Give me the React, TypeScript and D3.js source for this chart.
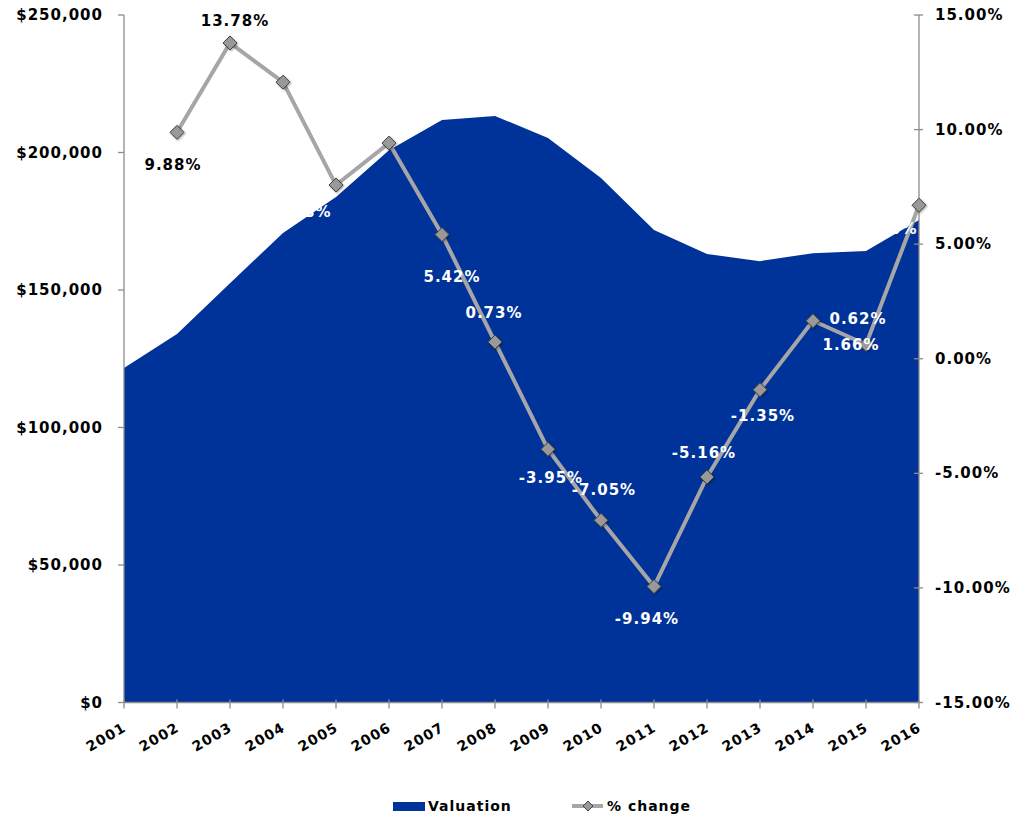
import React from "react";
import * as d3 from "d3";

const years = ["2001","2002","2003","2004","2005","2006","2007","2008","2009","2010","2011","2012","2013","2014","2015","2016"];
const valuation = [121600,134000,152500,170700,183800,200800,211800,213300,205300,190700,171800,163100,160500,163400,164200,175500];
const pctYears = ["2002","2003","2004","2005","2006","2007","2008","2009","2010","2011","2012","2013","2014","2015","2016"];
const pctChange = [9.88,13.78,12.07,7.58,9.41,5.42,0.73,-3.95,-7.05,-9.94,-5.16,-1.35,1.66,0.62,6.7];
// label text, label offset (dx, dy) relative to point, colour
const pctLabels = [
  { year: "2002", text: "9.88%", dx: -4, dy: 38, color: "#000" },
  { year: "2003", text: "13.78%", dx: 5, dy: -17, color: "#000" },
  { year: "2005", text: "7.58%", dx: -33, dy: 32, color: "#fff" },
  { year: "2007", text: "5.42%", dx: 10, dy: 47, color: "#fff" },
  { year: "2008", text: "0.73%", dx: -1, dy: -24, color: "#fff" },
  { year: "2009", text: "-3.95%", dx: 3, dy: 34, color: "#fff" },
  { year: "2010", text: "-7.05%", dx: 3, dy: -25, color: "#fff" },
  { year: "2011", text: "-9.94%", dx: -7, dy: 37, color: "#fff" },
  { year: "2012", text: "-5.16%", dx: -3, dy: -19, color: "#fff" },
  { year: "2013", text: "-1.35%", dx: 3, dy: 31, color: "#fff" },
  { year: "2014", text: "0.62%", dx: 45, dy: 3, color: "#fff" },
  { year: "2015", text: "1.66%", dx: -15, dy: 5, color: "#fff" },
  { year: "2016", text: "6.70%", dx: -30, dy: 29, color: "#fff" },
];
const leftTicks = [0, 50000, 100000, 150000, 200000, 250000];
const rightTicks = [-15, -10, -5, 0, 5, 10, 15];

const W = 1032, H = 817;
const X0 = 124, X1 = 919, Y0 = 702.5, Y1 = 15;
const FONT = "'DejaVu Sans', Verdana, sans-serif";
const AREA = "#003399";
const AXIS = "#8c8c8c";

export default function App() {
  const x = d3.scalePoint<string>().domain(years).range([X0, X1]);
  const yL = d3.scaleLinear().domain([0, 250000]).range([Y0, Y1]);
  const yR = d3.scaleLinear().domain([-15, 15]).range([Y0, Y1]);
  const area = d3.area<number>().x((_, i) => x(years[i])!).y0(Y0).y1((d) => yL(d));
  const line = d3.line<number>().x((_, i) => x(pctYears[i])!).y((d) => yR(d));
  const fmtL = (v: number) => "$" + d3.format(",")(v);
  const diamond = (cx: number, cy: number, r: number) =>
    `M${cx},${cy - r}L${cx + r},${cy}L${cx},${cy + r}L${cx - r},${cy}Z`;
  const txt = { fontFamily: FONT, fontWeight: 700, fontSize: 15, letterSpacing: 1 } as const;

  return (
    <svg width={W} height={H} style={{ position: "absolute", left: 0, top: 0, background: "#fff" }}>
      <defs>
        <filter id="sh" x="-50%" y="-50%" width="200%" height="200%">
          <feDropShadow dx="1" dy="1" stdDeviation="1" floodColor="#000" floodOpacity="0.35" />
        </filter>
      </defs>
      <path d={area(valuation)!} fill={AREA} />
      {/* left axis */}
      <line x1={X0} x2={X0} y1={Y1} y2={Y0} stroke={AXIS} strokeWidth={1.3} />
      {leftTicks.map((t) => (
        <g key={"l" + t}>
          <line x1={X0 - 6} x2={X0} y1={yL(t)} y2={yL(t)} stroke={AXIS} strokeWidth={1.3} />
          <text x={103} y={yL(t) + 5} textAnchor="end" {...txt}>{fmtL(t)}</text>
        </g>
      ))}
      {/* right axis */}
      <line x1={X1} x2={X1} y1={Y1} y2={Y0} stroke={AXIS} strokeWidth={1.3} />
      {rightTicks.map((t) => (
        <g key={"r" + t}>
          <line x1={X1 - 5} x2={X1 + 4} y1={yR(t)} y2={yR(t)} stroke={AXIS} strokeWidth={1.3} />
          <text x={935} y={yR(t) + 5} textAnchor="start" {...txt}>{t.toFixed(2) + "%"}</text>
        </g>
      ))}
      {/* bottom axis */}
      <line x1={X0} x2={X1} y1={Y0} y2={Y0} stroke={AXIS} strokeWidth={1.5} />
      {years.map((yr) => (
        <g key={"x" + yr}>
          <line x1={x(yr)!} x2={x(yr)!} y1={Y0 - 3} y2={Y0 + 6} stroke={AXIS} strokeWidth={1.3} />
          <text transform={`translate(${x(yr)! + 3},${Y0 + 28}) rotate(-30)`} textAnchor="end" {...txt} fontSize={14}>{yr}</text>
        </g>
      ))}
      {/* % change line */}
      <path d={line(pctChange)!} fill="none" stroke="#a6a6a6" strokeWidth={4} strokeLinejoin="round" />
      {pctChange.map((v, i) => (
        <path key={"m" + i} d={diamond(x(pctYears[i])!, yR(v), 7)} fill="#999999" stroke="#404040" strokeWidth={1} filter="url(#sh)" />
      ))}
      {pctLabels.map((l) => {
        const i = pctYears.indexOf(l.year);
        return (
          <text key={"t" + l.year} x={x(l.year)! + l.dx} y={yR(pctChange[i]) + l.dy} textAnchor="middle" fill={l.color} {...txt}>{l.text}</text>
        );
      })}
      {/* legend */}
      <rect x={393} y={802} width={32} height={9} fill={AREA} />
      <text x={428} y={811} {...txt} fontSize={14}>Valuation</text>
      <line x1={572} x2={603} y1={806} y2={806} stroke="#a6a6a6" strokeWidth={4} />
      <path d={diamond(588, 806, 5)} fill="#999999" stroke="#404040" strokeWidth={1} />
      <text x={607} y={811} {...txt} fontSize={14}>% change</text>
    </svg>
  );
}
